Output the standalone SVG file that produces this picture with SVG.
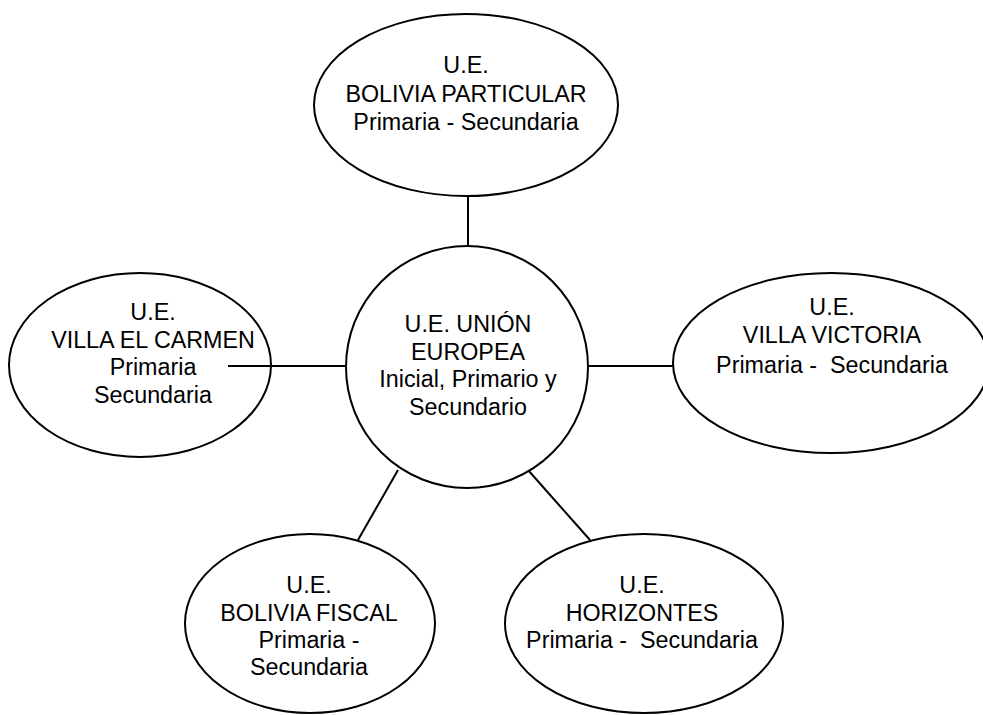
<svg xmlns="http://www.w3.org/2000/svg" width="983" height="715" viewBox="0 0 983 715">
<style>
.n{fill:#fff;stroke:#000;stroke-width:2}
.c{stroke:#000;stroke-width:2;fill:none}
text{font-family:"Liberation Sans",Arial,sans-serif;font-size:23.3px;fill:#000;text-anchor:middle}
</style>
<rect width="983" height="715" fill="#fff"/>
<g id="connectors">
<line class="c" x1="468" y1="197" x2="468" y2="247"/>
<line class="c" x1="228" y1="366" x2="346" y2="366"/>
<line class="c" x1="588" y1="366" x2="674" y2="366"/>
<line class="c" x1="398" y1="470" x2="358" y2="540"/>
<line class="c" x1="528" y1="470" x2="590" y2="540"/>
</g>
<g id="top">
<ellipse class="n" cx="466" cy="105" rx="152" ry="91"/>
<text x="466" y="73">U.E.</text>
<text x="466" y="102">BOLIVIA PARTICULAR</text>
<text x="466" y="130">Primaria - Secundaria</text>
</g>
<g id="center">
<circle class="n" cx="467" cy="367" r="121"/>
<text x="468" y="332">U.E. UNIÓN</text>
<text x="468" y="360">EUROPEA</text>
<text x="468" y="387">Inicial, Primario y</text>
<text x="468" y="415">Secundario</text>
</g>
<g id="left">
<ellipse class="n" cx="140" cy="365" rx="131" ry="92"/>
<text x="153" y="320">U.E.</text>
<text x="153" y="348">VILLA EL CARMEN</text>
<text x="153" y="375">Primaria</text>
<text x="153" y="403">Secundaria</text>
</g>
<line class="c" x1="228" y1="366" x2="271" y2="366"/>
<g id="right">
<ellipse class="n" cx="831" cy="363" rx="158" ry="90"/>
<text x="832" y="315">U.E.</text>
<text x="832" y="343">VILLA VICTORIA</text>
<text x="832" y="373" xml:space="preserve">Primaria -  Secundaria</text>
</g>
<g id="bottom-left">
<ellipse class="n" cx="310" cy="623.5" rx="125" ry="89.5"/>
<text x="309" y="593">U.E.</text>
<text x="309" y="621">BOLIVIA FISCAL</text>
<text x="309" y="648">Primaria -</text>
<text x="309" y="675">Secundaria</text>
</g>
<g id="bottom-right">
<ellipse class="n" cx="644" cy="623.5" rx="139" ry="89.5"/>
<text x="642" y="593">U.E.</text>
<text x="642" y="621">HORIZONTES</text>
<text x="642" y="648" xml:space="preserve">Primaria -  Secundaria</text>
</g>
</svg>
